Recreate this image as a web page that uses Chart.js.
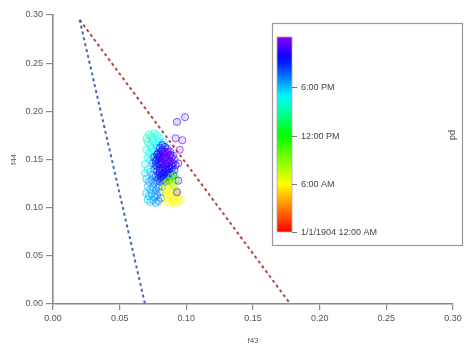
<!DOCTYPE html>
<html>
<head>
<meta charset="utf-8">
<script src="https://cdn.jsdelivr.net/npm/chart.js@4.4.0/dist/chart.umd.min.js"></script>
<style>
  html, body { margin: 0; padding: 0; background: #fff; }
</style>
</head>
<body>
<canvas id="chart" width="465" height="346"></canvas>
<script>
// f43 / f44 measurements, coloured by time of day (hours)
const f43 = [
  0.070, 0.072, 0.074, 0.076, 0.078, 0.080, 0.071, 0.073, 0.075, 0.077, 0.079, 0.081, 0.083,
  0.070, 0.072, 0.074, 0.076, 0.078, 0.082, 0.084, 0.071, 0.073, 0.075, 0.077, 0.080,
  0.080, 0.082, 0.084, 0.086, 0.088, 0.079, 0.081, 0.083, 0.085, 0.087, 0.089, 0.091,
  0.076, 0.078, 0.080, 0.082, 0.084, 0.086, 0.088, 0.090, 0.092,
  0.075, 0.077, 0.079, 0.081, 0.083, 0.085, 0.087, 0.089, 0.091,
  0.076, 0.078, 0.080, 0.082, 0.084, 0.086, 0.088, 0.090,
  0.075, 0.077, 0.079, 0.081, 0.083, 0.085, 0.087,
  0.078, 0.080, 0.082, 0.084, 0.083, 0.085, 0.081, 0.083, 0.085, 0.087,
  0.079, 0.081, 0.083, 0.085, 0.080, 0.082, 0.084, 0.086, 0.078, 0.080, 0.082, 0.084, 0.086,
  0.079, 0.081, 0.083, 0.085, 0.077, 0.078, 0.082, 0.084, 0.086, 0.088, 0.090, 0.089, 0.087,
  0.070, 0.072, 0.074, 0.076, 0.071, 0.073, 0.075, 0.077, 0.079, 0.070, 0.072, 0.074, 0.076,
  0.078, 0.080, 0.071, 0.073, 0.075, 0.077, 0.079, 0.081, 0.082, 0.069, 0.071, 0.073, 0.069,
  0.084, 0.086, 0.088, 0.090, 0.083, 0.085, 0.087, 0.089, 0.091, 0.093, 0.084, 0.086, 0.088,
  0.090, 0.092, 0.094, 0.086, 0.088, 0.090, 0.092, 0.094, 0.096,
  0.089, 0.091, 0.092, 0.087, 0.090,
  0.093, 0.099, 0.092, 0.097, 0.095, 0.094, 0.094, 0.093
];
const f44 = [
  0.172, 0.176, 0.174, 0.177, 0.175, 0.172, 0.168, 0.165, 0.169, 0.166, 0.168, 0.165, 0.168,
  0.160, 0.157, 0.161, 0.158, 0.162, 0.160, 0.163, 0.152, 0.149, 0.153, 0.150, 0.155,
  0.162, 0.165, 0.163, 0.161, 0.158, 0.157, 0.158, 0.157, 0.156, 0.154, 0.152, 0.150,
  0.152, 0.150, 0.152, 0.151, 0.152, 0.150, 0.148, 0.146, 0.144,
  0.146, 0.144, 0.146, 0.145, 0.147, 0.145, 0.143, 0.141, 0.139,
  0.140, 0.138, 0.140, 0.139, 0.141, 0.138, 0.136, 0.134,
  0.134, 0.132, 0.134, 0.133, 0.134, 0.132, 0.130,
  0.128, 0.127, 0.129, 0.127, 0.155, 0.149, 0.148, 0.143, 0.140, 0.147,
  0.153, 0.154, 0.152, 0.153, 0.145, 0.146, 0.145, 0.146, 0.143, 0.136, 0.136, 0.137, 0.135,
  0.130, 0.131, 0.131, 0.128, 0.148, 0.155, 0.160, 0.158, 0.158, 0.155, 0.154, 0.144, 0.140,
  0.130, 0.127, 0.129, 0.126, 0.122, 0.119, 0.121, 0.118, 0.121, 0.115, 0.112, 0.114, 0.111,
  0.113, 0.116, 0.108, 0.106, 0.108, 0.105, 0.107, 0.110, 0.122, 0.136, 0.140, 0.137, 0.145,
  0.125, 0.127, 0.124, 0.126, 0.119, 0.117, 0.120, 0.118, 0.121, 0.118, 0.112, 0.110, 0.113,
  0.111, 0.113, 0.110, 0.106, 0.104, 0.107, 0.105, 0.106, 0.108,
  0.132, 0.134, 0.129, 0.128, 0.123,
  0.189, 0.194, 0.172, 0.170, 0.160, 0.146, 0.128, 0.116
];
const hourOfDay = [
  15.5, 16.0, 16.2, 15.8, 16.4, 16.8, 15.9, 16.3, 16.1, 16.6, 16.9, 17.1, 17.3,
  16.5, 16.7, 16.4, 17.0, 17.2, 17.6, 17.8, 16.8, 17.0, 17.3, 17.5, 17.9,
  21.0, 22.5, 23.0, 22.8, 23.2, 21.5, 22.0, 22.6, 23.4, 23.1, 22.7, 23.5,
  20.2, 20.8, 21.6, 22.3, 22.9, 23.3, 22.4, 23.0, 22.2,
  19.8, 20.5, 21.2, 22.1, 22.8, 23.6, 22.6, 21.9, 21.4,
  20.0, 20.6, 21.4, 22.0, 22.7, 21.8, 21.3, 20.9,
  19.5, 20.1, 20.7, 21.5, 21.9, 21.1, 20.4,
  19.9, 20.3, 20.8, 20.6, 23.8, 23.9, 22.9, 22.5, 22.3, 23.4,
  22.4, 23.0, 23.5, 23.7, 22.6, 23.2, 23.6, 23.0, 21.0, 21.7, 22.4, 22.0, 21.5,
  20.5, 21.2, 21.6, 20.9, 20.9, 21.8, 22.7, 23.3, 23.5, 23.0, 22.8, 22.0, 21.6,
  18.2, 18.6, 19.0, 19.3, 18.0, 18.4, 18.8, 19.2, 19.5, 17.8, 18.1, 18.5, 18.9,
  19.1, 19.4, 17.6, 17.9, 18.3, 18.7, 19.0, 19.6, 19.7, 17.4, 17.2, 18.0, 17.0,
  7.2, 6.8, 6.5, 7.5, 6.9, 6.3, 6.1, 5.9, 6.6, 6.0, 6.4, 6.0, 5.8,
  6.2, 5.7, 6.1, 6.3, 5.9, 5.6, 6.0, 5.8, 6.4,
  10.5, 11.2, 9.8, 12.0, 8.6,
  22.5, 23.0, 22.8, 23.3, 23.6, 22.9, 23.1, 22.6
];

// reference lines
const blueLineX = [0.020, 0.069];
const blueLineY = [0.295, 0.000];
const redLineX = [0.020, 0.178];
const redLineY = [0.295, 0.000];

// colour scale legend
const cbarMin = 0;
const cbarMax = 24.25;
const cbarTickHours = [0, 6, 12, 18];
const cbarTickLabels = ['1/1/1904 12:00 AM', '6:00 AM', '12:00 PM', '6:00 PM'];
const cbarTitle = 'pd';

const axisTicks = [0, 0.05, 0.10, 0.15, 0.20, 0.25, 0.30];

const FONT = 'Liberation Sans, Arial, sans-serif';
const AXIS_GREY = '#8a8a8a';
const TEXT_GREY = '#555';

// red -> yellow -> green -> cyan -> blue -> violet
function hourHue(h) {
  return h <= 12 ? h * 10 : 120 + (h - 12) * 12.5;
}
function hourColor(h, a) {
  return `hsla(${hourHue(h)}, 100%, 50%, ${a})`;
}

function toPoints(xs, ys) {
  return xs.map((x, i) => ({ x: x, y: ys[i] }));
}

const colorBarPlugin = {
  id: 'colorBar',
  afterDraw(chart) {
    const ctx = chart.ctx;
    const box = { left: 272.5, top: 23.5, right: 462.5, bottom: 245.5 };
    const bar = { left: 277, top: 37, right: 292, bottom: 232 };
    const yOf = h => bar.bottom - (h - cbarMin) / (cbarMax - cbarMin) * (bar.bottom - bar.top);

    ctx.save();
    ctx.fillStyle = '#fff';
    ctx.fillRect(box.left, box.top, box.right - box.left, box.bottom - box.top);
    ctx.strokeStyle = '#9a9a9a';
    ctx.lineWidth = 1.2;
    ctx.strokeRect(box.left, box.top, box.right - box.left, box.bottom - box.top);

    const grad = ctx.createLinearGradient(0, bar.bottom, 0, bar.top);
    for (let h = 0; h <= 24; h += 1) {
      grad.addColorStop((h - cbarMin) / (cbarMax - cbarMin), hourColor(h, 1));
    }
    grad.addColorStop(1, hourColor(24, 1));
    ctx.fillStyle = grad;
    ctx.fillRect(bar.left, bar.top, bar.right - bar.left, bar.bottom - bar.top);
    ctx.strokeStyle = '#aaa';
    ctx.lineWidth = 0.8;
    ctx.strokeRect(bar.left, bar.top, bar.right - bar.left, bar.bottom - bar.top);

    ctx.font = `9px ${FONT}`;
    ctx.fillStyle = '#444';
    ctx.textBaseline = 'middle';
    ctx.textAlign = 'left';
    ctx.strokeStyle = '#777';
    ctx.lineWidth = 1;
    cbarTickHours.forEach((h, i) => {
      const y = Math.round(yOf(h)) + 0.5;
      ctx.beginPath();
      ctx.moveTo(bar.right, y);
      ctx.lineTo(bar.right + 5, y);
      ctx.stroke();
      ctx.fillText(cbarTickLabels[i], bar.right + 9, y);
    });

    ctx.translate(452, 135);
    ctx.rotate(Math.PI / 2);
    ctx.textAlign = 'center';
    ctx.fillText(cbarTitle, 0, 0);
    ctx.restore();
  }
};

const axisFont = { family: FONT, size: 9 };

new Chart(document.getElementById('chart'), {
  type: 'scatter',
  data: {
    datasets: [
      {
        data: toPoints(blueLineX, blueLineY),
        showLine: true,
        borderColor: '#4466b8',
        borderWidth: 2,
        borderDash: [3, 3],
        pointRadius: 0
      },
      {
        data: toPoints(redLineX, redLineY),
        showLine: true,
        borderColor: '#b5473a',
        borderWidth: 2,
        borderDash: [3, 3],
        pointRadius: 0
      },
      {
        data: toPoints(f43, f44),
        pointStyle: 'circle',
        pointRadius: 3.6,
        pointBorderWidth: 1,
        pointBorderColor: c => hourColor(hourOfDay[c.dataIndex], 0.6),
        pointBackgroundColor: c => hourColor(hourOfDay[c.dataIndex], 0.14)
      }
    ]
  },
  options: {
    responsive: false,
    animation: false,
    events: [],
    layout: { padding: { top: 15, right: 12, left: 0, bottom: 0 } },
    plugins: {
      legend: { display: false },
      tooltip: { enabled: false }
    },
    scales: {
      x: {
        type: 'linear',
        min: 0,
        max: 0.3,
        afterBuildTicks: s => { s.ticks = axisTicks.map(v => ({ value: v })); },
        afterFit: s => { s.height = 42; },
        ticks: {
          color: TEXT_GREY,
          font: axisFont,
          padding: 3,
          maxRotation: 0,
          callback: v => v.toFixed(2)
        },
        grid: { drawOnChartArea: false, drawTicks: true, tickLength: 6, color: AXIS_GREY, lineWidth: 1.2 },
        border: { display: true, color: AXIS_GREY, width: 1.6 },
        title: { display: true, text: 'f43', color: TEXT_GREY, font: { family: FONT, size: 8 }, padding: { top: 4, bottom: 0 } }
      },
      y: {
        type: 'linear',
        min: 0,
        max: 0.3,
        afterBuildTicks: s => { s.ticks = axisTicks.map(v => ({ value: v })); },
        afterFit: s => { s.width = 53; },
        ticks: {
          color: TEXT_GREY,
          font: axisFont,
          padding: 3,
          callback: v => v.toFixed(2)
        },
        grid: { drawOnChartArea: false, drawTicks: true, tickLength: 7, color: AXIS_GREY, lineWidth: 1.2 },
        border: { display: true, color: AXIS_GREY, width: 1.6 },
        title: { display: true, text: 'f44', color: TEXT_GREY, font: { family: FONT, size: 8 }, padding: { top: 9, bottom: 0 } }
      }
    }
  },
  plugins: [colorBarPlugin]
});
</script>
</body>
</html>
